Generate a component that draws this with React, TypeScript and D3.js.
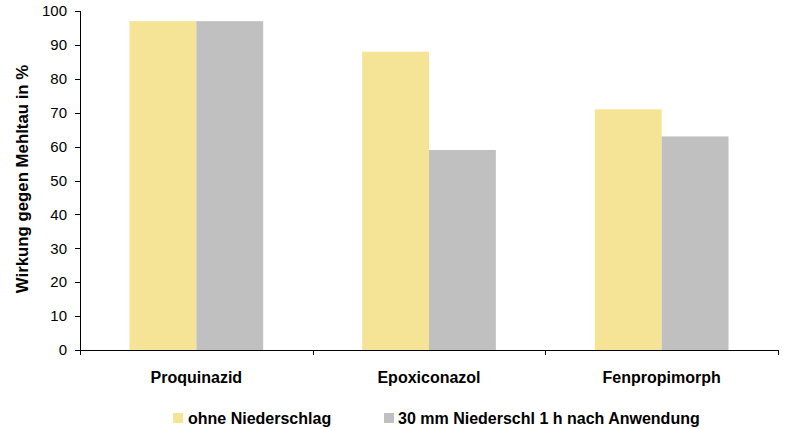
import React from "react";
import * as d3 from "d3";

const categories = ["Proquinazid", "Epoxiconazol", "Fenpropimorph"];
const seriesNames = ["ohne Niederschlag", "30 mm Niederschl 1 h nach Anwendung"];
const ohneValues = [97, 88, 71];
const niederValues = [97, 59, 63];
const yTicks = [0, 10, 20, 30, 40, 50, 60, 70, 80, 90, 100];
const colors = ["#F5E496", "#C0C0C0"];

export default function App() {
  const W = 789, H = 429;
  const left = 80, right = 778, top = 11, bottom = 350;
  const x = d3.scaleBand<string>().domain(categories).range([left, right]).paddingInner(0).paddingOuter(0);
  const y = d3.scaleLinear().domain([0, 100]).range([bottom, top]);
  const inner = d3.scaleBand<string>().domain(seriesNames).range([0, x.bandwidth()]).paddingInner(0).paddingOuter(0.74);
  const series = [ohneValues, niederValues];
  const font = "'Liberation Sans', Arial, sans-serif";
  const boundaries = [left, ...categories.map((c) => (x(c) as number) + x.bandwidth())];
  return (
    <svg width={W} height={H} style={{ position: "absolute", left: 0, top: 0 }} fontFamily={font}>
      <rect x={0} y={0} width={W} height={H} fill="#fff" />
      {categories.map((c, i) =>
        series.map((vals, s) => (
          <rect
            key={c + s}
            x={(x(c) as number) + (inner(seriesNames[s]) as number)}
            y={y(vals[i])}
            width={inner.bandwidth()}
            height={bottom - y(vals[i])}
            fill={colors[s]}
          />
        ))
      )}
      <line x1={left + 0.5} x2={left + 0.5} y1={top} y2={bottom} stroke="#000" />
      <line x1={left} x2={right} y1={bottom + 0.5} y2={bottom + 0.5} stroke="#000" />
      {yTicks.map((t) => (
        <g key={t}>
          <line x1={left - 5} x2={left} y1={Math.round(y(t)) + 0.5} y2={Math.round(y(t)) + 0.5} stroke="#000" />
          <text x={left - 13} y={y(t)} dy="0.35em" textAnchor="end" fontSize={15} fill="#000">{t}</text>
        </g>
      ))}
      {boundaries.map((b, i) => (
        <line key={i} x1={Math.round(b) + 0.5} x2={Math.round(b) + 0.5} y1={bottom} y2={bottom + 5} stroke="#000" />
      ))}
      {categories.map((c) => (
        <text key={c} x={(x(c) as number) + x.bandwidth() / 2} y={383} textAnchor="middle" fontSize={16} fontWeight="bold" fill="#000">{c}</text>
      ))}
      <text transform={`translate(28,179) rotate(-90)`} textAnchor="middle" fontSize={16.8} fontWeight="bold" fill="#000">
        Wirkung gegen Mehltau in %
      </text>
      <rect x={173} y={413} width={10} height={10} fill={colors[0]} />
      <text x={188} y={424} fontSize={16} fontWeight="bold" fill="#000">{seriesNames[0]}</text>
      <rect x={384} y={413} width={10} height={10} fill={colors[1]} />
      <text x={398} y={424} fontSize={16} fontWeight="bold" fill="#000">{seriesNames[1]}</text>
    </svg>
  );
}
